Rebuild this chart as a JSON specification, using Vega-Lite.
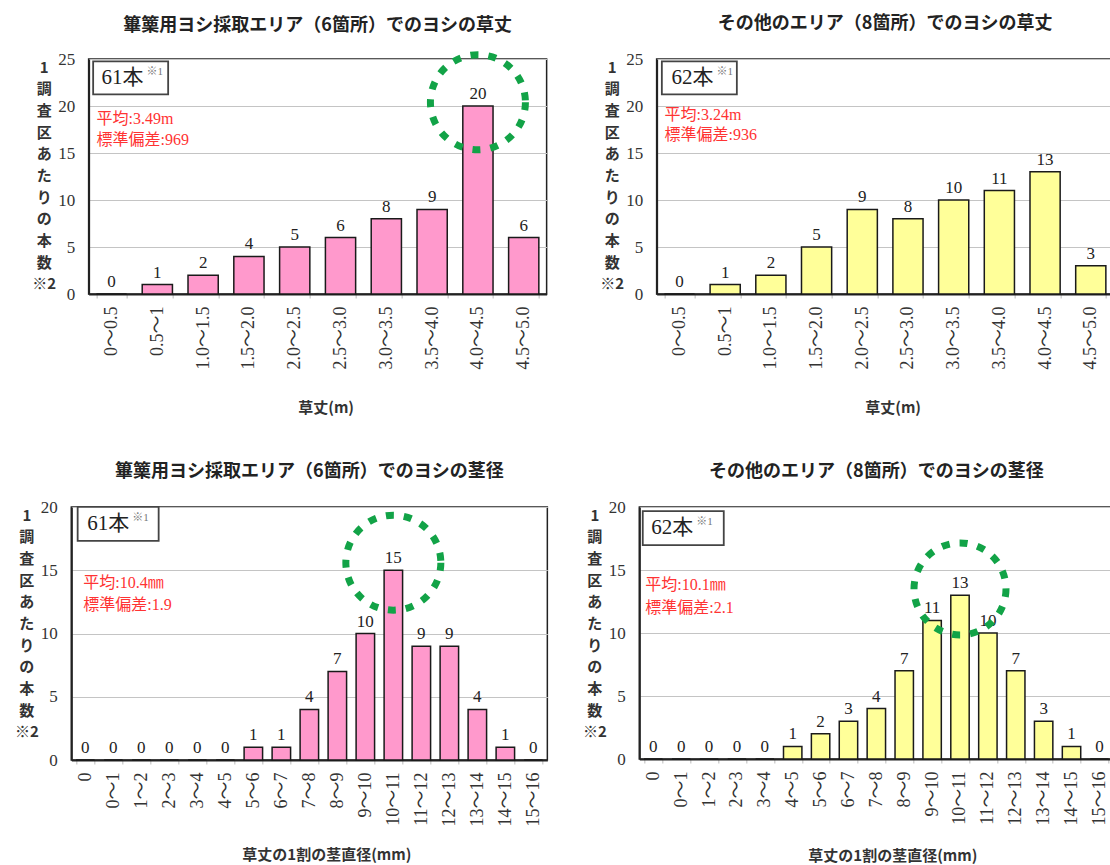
{
  "$schema": "https://vega.github.io/schema/vega-lite/v6.json",
  "background": "white",
  "padding": {"left": 13, "top": 14, "right": 0, "bottom": 0},
  "spacing": 46,
  "center": true,
  "config": {
    "font": "Noto Sans CJK JP",
    "view": {"stroke": "#222", "strokeWidth": 1.5},
    "title": {"font": "Noto Sans CJK JP", "fontSize": 18, "fontWeight": "bold", "color": "#222", "anchor": "middle", "baseline": "bottom", "offset": 17},
    "axisX": {"labelAngle": 270, "labelFont": "Liberation Serif, Noto Sans CJK JP", "labelFontSize": 18, "labelColor": "#333", "labelPadding": 8, "domainColor": "#222", "domainWidth": 2, "tickColor": "#bbb", "tickSize": 4, "tickBand": "extent", "titleFont": "Noto Sans CJK JP", "titleFontSize": 15, "titleFontWeight": "bold", "titleColor": "#333", "titleAlign": "center", "titleBaseline": "middle", "grid": false},
    "axisY": {"ticks": false, "labelFont": "Liberation Serif", "labelFontSize": 17, "labelColor": "#333", "labelPadding": 14, "domainColor": "#222", "domainWidth": 2, "gridColor": "#c4c4c4", "gridWidth": 1.2, "titleAngle": 0, "titleAlign": "center", "titleBaseline": "top", "titleX": -45, "titleY": 1, "titleFont": "Noto Sans CJK JP", "titleFontSize": 15, "titleFontWeight": "bold", "titleColor": "#333", "titleLineHeight": 21.7}
  },
  "datasets": {
    "h6": [
      {"range": "0～0.5", "count": 0}, {"range": "0.5～1", "count": 1}, {"range": "1.0～1.5", "count": 2}, {"range": "1.5～2.0", "count": 4}, {"range": "2.0～2.5", "count": 5},
      {"range": "2.5～3.0", "count": 6}, {"range": "3.0～3.5", "count": 8}, {"range": "3.5～4.0", "count": 9}, {"range": "4.0～4.5", "count": 20}, {"range": "4.5～5.0", "count": 6}
    ],
    "h8": [
      {"range": "0～0.5", "count": 0}, {"range": "0.5～1", "count": 1}, {"range": "1.0～1.5", "count": 2}, {"range": "1.5～2.0", "count": 5}, {"range": "2.0～2.5", "count": 9},
      {"range": "2.5～3.0", "count": 8}, {"range": "3.0～3.5", "count": 10}, {"range": "3.5～4.0", "count": 11}, {"range": "4.0～4.5", "count": 13}, {"range": "4.5～5.0", "count": 3}
    ],
    "d6": [
      {"range": "0", "count": 0}, {"range": "0～1", "count": 0}, {"range": "1～2", "count": 0}, {"range": "2～3", "count": 0}, {"range": "3～4", "count": 0}, {"range": "4～5", "count": 0},
      {"range": "5～6", "count": 1}, {"range": "6～7", "count": 1}, {"range": "7～8", "count": 4}, {"range": "8～9", "count": 7}, {"range": "9～10", "count": 10}, {"range": "10～11", "count": 15},
      {"range": "11～12", "count": 9}, {"range": "12～13", "count": 9}, {"range": "13～14", "count": 4}, {"range": "14～15", "count": 1}, {"range": "15～16", "count": 0}
    ],
    "d8": [
      {"range": "0", "count": 0}, {"range": "0～1", "count": 0}, {"range": "1～2", "count": 0}, {"range": "2～3", "count": 0}, {"range": "3～4", "count": 0}, {"range": "4～5", "count": 1},
      {"range": "5～6", "count": 2}, {"range": "6～7", "count": 3}, {"range": "7～8", "count": 4}, {"range": "8～9", "count": 7}, {"range": "9～10", "count": 11}, {"range": "10～11", "count": 13},
      {"range": "11～12", "count": 10}, {"range": "12～13", "count": 7}, {"range": "13～14", "count": 3}, {"range": "14～15", "count": 1}, {"range": "15～16", "count": 0}
    ],
    "nh6": [
      {"kind": "box", "range": "0～0.5", "count": 23.0},
      {"kind": "n", "range": "0～0.5", "count": 23.0, "t": "61本"},
      {"kind": "sup", "range": "0～0.5", "count": 23.0, "t": "※1"},
      {"kind": "stat", "range": "0～0.5", "count": 18.6, "t": "平均:3.49m"},
      {"kind": "stat", "range": "0～0.5", "count": 16.4, "t": "標準偏差:969"},
      {"kind": "peak", "range": "4.0～4.5", "count": 20.4}
    ],
    "nh8": [
      {"kind": "box", "range": "0～0.5", "count": 23.0},
      {"kind": "n", "range": "0～0.5", "count": 23.0, "t": "62本"},
      {"kind": "sup", "range": "0～0.5", "count": 23.0, "t": "※1"},
      {"kind": "stat", "range": "0～0.5", "count": 19.0, "t": "平均:3.24m"},
      {"kind": "stat", "range": "0～0.5", "count": 16.9, "t": "標準偏差:936"}
    ],
    "nd6": [
      {"kind": "box", "range": "0", "count": 18.66},
      {"kind": "n", "range": "0", "count": 18.66, "t": "61本"},
      {"kind": "sup", "range": "0", "count": 18.66, "t": "※1"},
      {"kind": "stat", "range": "0", "count": 14.0, "t": "平均:10.4㎜"},
      {"kind": "stat", "range": "0", "count": 12.25, "t": "標準偏差:1.9"},
      {"kind": "peak", "range": "10～11", "count": 15.6}
    ],
    "nd8": [
      {"kind": "box", "range": "0", "count": 18.33},
      {"kind": "n", "range": "0", "count": 18.33, "t": "62本"},
      {"kind": "sup", "range": "0", "count": 18.33, "t": "※1"},
      {"kind": "stat", "range": "0", "count": 13.8, "t": "平均:10.1㎜"},
      {"kind": "stat", "range": "0", "count": 12.0, "t": "標準偏差:2.1"},
      {"kind": "peak", "range": "10～11", "count": 13.5}
    ]
  },
  "vconcat": [
    {
      "spacing": 51,
      "hconcat": [
        {
          "width": 458, "height": 235,
          "title": {"text": "篳篥用ヨシ採取エリア（6箇所）でのヨシの草丈", "offset": 6},
          "encoding": {
            "x": {"field": "range", "type": "nominal", "sort": null,
              "scale": {"domain": ["0～0.5","0.5～1","1.0～1.5","1.5～2.0","2.0～2.5","2.5～3.0","3.0～3.5","3.5～4.0","4.0～4.5","4.5～5.0"], "paddingInner": 0.34, "paddingOuter": 0.17},
              "axis": {"title": "草丈(m)", "titleX": 237, "titleY": 113}},
            "y": {"field": "count", "type": "quantitative", "scale": {"domain": [0, 25], "nice": false},
              "axis": {"values": [0, 5, 10, 15, 20, 25], "title": ["1","調","査","区","あ","た","り","の","本","数","※2"]}}
          },
          "layer": [
            {"data": {"name": "h6"}, "mark": {"type": "bar", "fill": "#FF99CC", "stroke": "#1a1a1a", "strokeWidth": 1.5}},
            {"data": {"name": "h6"}, "mark": {"type": "text", "dy": -12, "font": "Liberation Serif", "fontSize": 17, "color": "#222"}, "encoding": {"text": {"field": "count"}}},
            {"data": {"name": "nh6"}, "transform": [{"filter": "datum.kind == 'peak'"}], "mark": {"type": "point", "shape": "circle", "size": 9025, "filled": false, "stroke": "#12A347", "strokeWidth": 7, "strokeDash": [8, 10], "opacity": 1}},
            {"data": {"name": "nh6"}, "transform": [{"filter": "datum.kind == 'box'"}], "mark": {"type": "point", "shape": "M-0.49,-0.44H1.51V0.44H-0.49Z", "size": 5625, "filled": true, "fill": "white", "stroke": "#444", "strokeWidth": 1.8, "opacity": 1}},
            {"data": {"name": "nh6"}, "transform": [{"filter": "datum.kind == 'n'"}], "mark": {"type": "text", "align": "left", "dx": -10, "font": "Liberation Serif, Noto Sans CJK JP", "fontSize": 21, "color": "#222"}, "encoding": {"text": {"field": "t"}}},
            {"data": {"name": "nh6"}, "transform": [{"filter": "datum.kind == 'sup'"}], "mark": {"type": "text", "align": "left", "dx": 35, "dy": -6, "font": "Liberation Serif, Noto Sans CJK JP", "fontSize": 11, "color": "#777"}, "encoding": {"text": {"field": "t"}}},
            {"data": {"name": "nh6"}, "transform": [{"filter": "datum.kind == 'stat'"}], "mark": {"type": "text", "align": "left", "dx": -15, "font": "Liberation Serif, Noto Sans CJK JP", "fontSize": 16, "color": "#FF3333"}, "encoding": {"text": {"field": "t"}}}
          ]
        },
        {
          "width": 457, "height": 235,
          "title": {"text": "その他のエリア（8箇所）でのヨシの草丈"},
          "encoding": {
            "x": {"field": "range", "type": "nominal", "sort": null,
              "scale": {"domain": ["0～0.5","0.5～1","1.0～1.5","1.5～2.0","2.0～2.5","2.5～3.0","3.0～3.5","3.5～4.0","4.0～4.5","4.5～5.0"], "paddingInner": 0.34, "paddingOuter": 0.17},
              "axis": {"title": "草丈(m)", "titleX": 236, "titleY": 113}},
            "y": {"field": "count", "type": "quantitative", "scale": {"domain": [0, 25], "nice": false},
              "axis": {"values": [0, 5, 10, 15, 20, 25], "title": ["1","調","査","区","あ","た","り","の","本","数","※2"]}}
          },
          "layer": [
            {"data": {"name": "h8"}, "mark": {"type": "bar", "fill": "#FFFF99", "stroke": "#1a1a1a", "strokeWidth": 1.5}},
            {"data": {"name": "h8"}, "mark": {"type": "text", "dy": -12, "font": "Liberation Serif", "fontSize": 17, "color": "#222"}, "encoding": {"text": {"field": "count"}}},
            {"data": {"name": "nh8"}, "transform": [{"filter": "datum.kind == 'box'"}], "mark": {"type": "point", "shape": "M-0.47,-0.44H1.53V0.44H-0.47Z", "size": 5625, "filled": true, "fill": "white", "stroke": "#444", "strokeWidth": 1.8, "opacity": 1}},
            {"data": {"name": "nh8"}, "transform": [{"filter": "datum.kind == 'n'"}], "mark": {"type": "text", "align": "left", "dx": -8, "font": "Liberation Serif, Noto Sans CJK JP", "fontSize": 21, "color": "#222"}, "encoding": {"text": {"field": "t"}}},
            {"data": {"name": "nh8"}, "transform": [{"filter": "datum.kind == 'sup'"}], "mark": {"type": "text", "align": "left", "dx": 37, "dy": -6, "font": "Liberation Serif, Noto Sans CJK JP", "fontSize": 11, "color": "#777"}, "encoding": {"text": {"field": "t"}}},
            {"data": {"name": "nh8"}, "transform": [{"filter": "datum.kind == 'stat'"}], "mark": {"type": "text", "align": "left", "dx": -15, "font": "Liberation Serif, Noto Sans CJK JP", "fontSize": 16, "color": "#FF3333"}, "encoding": {"text": {"field": "t"}}}
          ]
        }
      ]
    },
    {
      "spacing": 33,
      "hconcat": [
        {
          "width": 476, "height": 253,
          "title": {"text": "篳篥用ヨシ採取エリア（6箇所）でのヨシの茎径"},
          "encoding": {
            "x": {"field": "range", "type": "nominal", "sort": null,
              "scale": {"domain": ["0","0～1","1～2","2～3","3～4","4～5","5～6","6～7","7～8","8～9","9～10","10～11","11～12","12～13","13～14","14～15","15～16"], "paddingInner": 0.34, "paddingOuter": 0.17},
              "axis": {"title": "草丈の1割の茎直径(mm)", "titleX": 255, "titleY": 94}},
            "y": {"field": "count", "type": "quantitative", "scale": {"domain": [0, 20], "nice": false},
              "axis": {"values": [0, 5, 10, 15, 20], "title": ["1","調","査","区","あ","た","り","の","本","数","※2"]}}
          },
          "layer": [
            {"data": {"name": "d6"}, "mark": {"type": "bar", "fill": "#FF99CC", "stroke": "#1a1a1a", "strokeWidth": 1.5}},
            {"data": {"name": "d6"}, "mark": {"type": "text", "dy": -12, "font": "Liberation Serif", "fontSize": 17, "color": "#222"}, "encoding": {"text": {"field": "count"}}},
            {"data": {"name": "nd6"}, "transform": [{"filter": "datum.kind == 'peak'"}], "mark": {"type": "point", "shape": "circle", "size": 9025, "filled": false, "stroke": "#12A347", "strokeWidth": 7, "strokeDash": [8, 10], "opacity": 1}},
            {"data": {"name": "nd6"}, "transform": [{"filter": "datum.kind == 'box'"}], "mark": {"type": "point", "shape": "M-0.19,-0.42H1.81V0.42H-0.19Z", "size": 6561, "filled": true, "fill": "white", "stroke": "#444", "strokeWidth": 1.8, "opacity": 1}},
            {"data": {"name": "nd6"}, "transform": [{"filter": "datum.kind == 'n'"}], "mark": {"type": "text", "align": "left", "dx": 2, "font": "Liberation Serif, Noto Sans CJK JP", "fontSize": 21, "color": "#222"}, "encoding": {"text": {"field": "t"}}},
            {"data": {"name": "nd6"}, "transform": [{"filter": "datum.kind == 'sup'"}], "mark": {"type": "text", "align": "left", "dx": 47, "dy": -6, "font": "Liberation Serif, Noto Sans CJK JP", "fontSize": 11, "color": "#777"}, "encoding": {"text": {"field": "t"}}},
            {"data": {"name": "nd6"}, "transform": [{"filter": "datum.kind == 'stat'"}], "mark": {"type": "text", "align": "left", "dx": -2, "font": "Liberation Serif, Noto Sans CJK JP", "fontSize": 16, "color": "#FF3333"}, "encoding": {"text": {"field": "t"}}}
          ]
        },
        {
          "width": 474, "height": 252,
          "title": {"text": "その他のエリア（8箇所）でのヨシの茎径"},
          "encoding": {
            "x": {"field": "range", "type": "nominal", "sort": null,
              "scale": {"domain": ["0","0～1","1～2","2～3","3～4","4～5","5～6","6～7","7～8","8～9","9～10","10～11","11～12","12～13","13～14","14～15","15～16"], "paddingInner": 0.34, "paddingOuter": 0.17},
              "axis": {"title": "⠀⠀⠀⠀⠀⠀⠀⠀⠀⠀⠀⠀⠀⠀草丈の1割の茎直径(mm)⠀⠀⠀⠀⠀⠀⠀⠀⠀⠀⠀⠀⠀⠀", "titleX": 253, "titleY": 96}},
            "y": {"field": "count", "type": "quantitative", "scale": {"domain": [0, 20], "nice": false},
              "axis": {"values": [0, 5, 10, 15, 20], "title": ["1","調","査","区","あ","た","り","の","本","数","※2"]}}
          },
          "layer": [
            {"data": {"name": "d8"}, "mark": {"type": "bar", "fill": "#FFFF99", "stroke": "#1a1a1a", "strokeWidth": 1.5}},
            {"data": {"name": "d8"}, "mark": {"type": "text", "dy": -12, "font": "Liberation Serif", "fontSize": 17, "color": "#222"}, "encoding": {"text": {"field": "count"}}},
            {"data": {"name": "nd8"}, "transform": [{"filter": "datum.kind == 'peak'"}], "mark": {"type": "point", "shape": "circle", "size": 8464, "filled": false, "stroke": "#12A347", "strokeWidth": 7, "strokeDash": [8, 10], "opacity": 1}},
            {"data": {"name": "nd8"}, "transform": [{"filter": "datum.kind == 'box'"}], "mark": {"type": "point", "shape": "M-0.26,-0.42H1.74V0.42H-0.26Z", "size": 6561, "filled": true, "fill": "white", "stroke": "#444", "strokeWidth": 1.8, "opacity": 1}},
            {"data": {"name": "nd8"}, "transform": [{"filter": "datum.kind == 'n'"}], "mark": {"type": "text", "align": "left", "dx": -2, "font": "Liberation Serif, Noto Sans CJK JP", "fontSize": 21, "color": "#222"}, "encoding": {"text": {"field": "t"}}},
            {"data": {"name": "nd8"}, "transform": [{"filter": "datum.kind == 'sup'"}], "mark": {"type": "text", "align": "left", "dx": 43, "dy": -6, "font": "Liberation Serif, Noto Sans CJK JP", "fontSize": 11, "color": "#777"}, "encoding": {"text": {"field": "t"}}},
            {"data": {"name": "nd8"}, "transform": [{"filter": "datum.kind == 'stat'"}], "mark": {"type": "text", "align": "left", "dx": -8, "font": "Liberation Serif, Noto Sans CJK JP", "fontSize": 16, "color": "#FF3333"}, "encoding": {"text": {"field": "t"}}}
          ]
        }
      ]
    }
  ]
}
